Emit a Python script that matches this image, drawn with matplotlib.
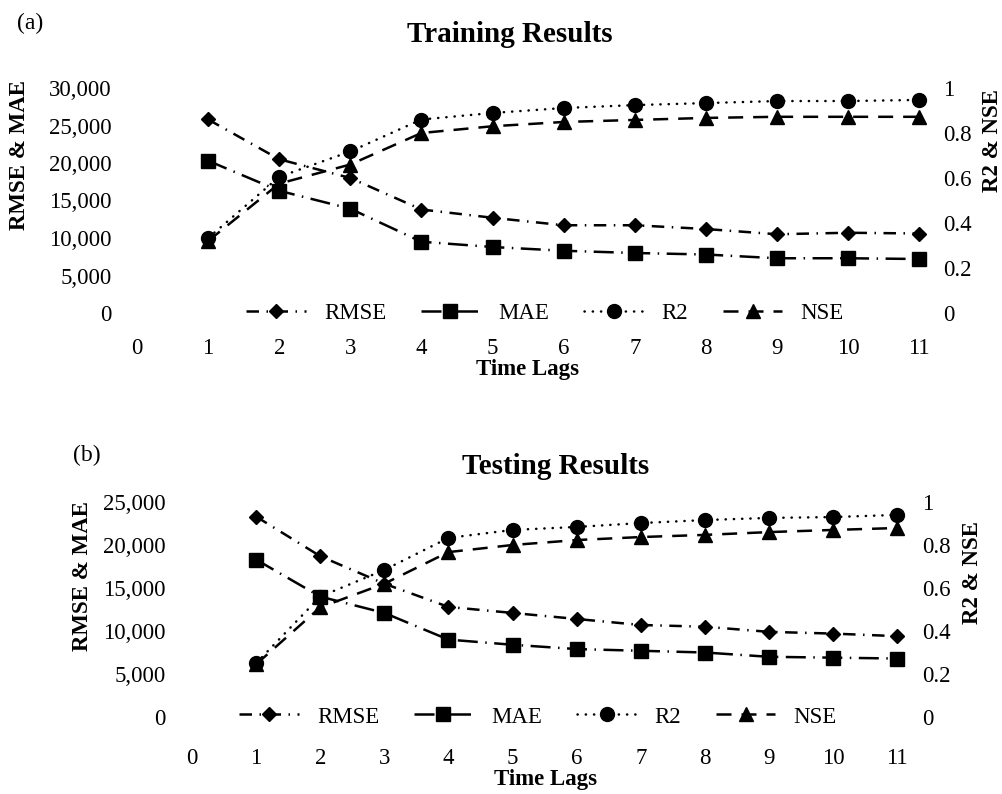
import matplotlib
matplotlib.use("Agg")
import matplotlib.pyplot as plt
from matplotlib.ticker import FuncFormatter

plt.rcParams["font.family"] = ["Liberation Serif", "DejaVu Serif"]

# Datos
lags = [1, 2, 3, 4, 5, 6, 7, 8, 9, 10, 11]
x_ticks = [0, 1, 2, 3, 4, 5, 6, 7, 8, 9, 10, 11]

train_rmse = [25800, 20500, 18000, 13800, 12700, 11700, 11700, 11200, 10500, 10700, 10600]
train_mae = [20300, 16300, 13900, 9500, 8800, 8300, 8000, 7800, 7300, 7300, 7200]
train_r2 = [0.333, 0.605, 0.718, 0.86, 0.889, 0.911, 0.924, 0.933, 0.942, 0.942, 0.947]
train_nse = [0.32, 0.575, 0.66, 0.80, 0.83, 0.849, 0.858, 0.867, 0.872, 0.872, 0.872]

test_rmse = [23300, 18700, 15500, 12800, 12100, 11400, 10700, 10500, 9900, 9700, 9400]
test_mae = [18300, 14000, 12100, 9000, 8400, 7900, 7700, 7500, 7000, 6900, 6800]
test_r2 = [0.25, 0.56, 0.684, 0.833, 0.87, 0.884, 0.902, 0.916, 0.926, 0.93, 0.94]
test_nse = [0.245, 0.51, 0.62, 0.767, 0.80, 0.823, 0.837, 0.847, 0.86, 0.87, 0.879]

left_ticks_a = [0, 5000, 10000, 15000, 20000, 25000, 30000]
left_ticks_b = [0, 5000, 10000, 15000, 20000, 25000]
right_ticks = [0, 0.2, 0.4, 0.6, 0.8, 1.0]
right_labels = ["0", "0.2", "0.4", "0.6", "0.8", "1"]

W, H = 1002, 794
FS = 16.5
LW = 1.8

fig = plt.figure(figsize=(W / 100, H / 100), dpi=100)
fig.patch.set_facecolor("white")


def px(x, y):
    return x / W, 1 - y / H


def panel(left, right, top, bottom, rmse, mae, r2, nse, lticks, xpad, lpad, rpad):
    x0, y0 = px(left, bottom)
    x1, y1 = px(right, top)
    ax = fig.add_axes([x0, y0, x1 - x0, y1 - y0])
    ax2 = ax.twinx()

    h1, = ax.plot(lags, rmse, color="black", lw=LW, ls=(0, (5, 3, 0.6, 3)),
                  marker="D", ms=7.5, label="RMSE")
    h2, = ax.plot(lags, mae, color="black", lw=LW, ls=(0, (8, 3, 0.6, 3)),
                  marker="s", ms=10, label="MAE")
    h3, = ax2.plot(lags, r2, color="black", lw=LW, ls=(0, (0.1, 3.2)),
                   dash_capstyle="round", marker="o", ms=10, label="R2")
    h4, = ax2.plot(lags, nse, color="black", lw=LW, ls=(0, (6, 4)),
                   marker="^", ms=10, label="NSE")

    ax.set_xlim(-0.3, 11.3)
    ax.set_ylim(0, lticks[-1])
    ax.set_yticks(lticks)
    ax.yaxis.set_major_formatter(FuncFormatter(lambda v, p: f"{int(v):,}"))
    ax.set_xticks(x_ticks)
    ax2.set_ylim(0, 1)
    ax2.set_yticks(right_ticks)
    ax2.set_yticklabels(right_labels)

    for a in (ax, ax2):
        for s in a.spines.values():
            s.set_visible(False)
    ax.tick_params(axis="x", length=0, labelsize=FS, pad=xpad)
    ax.tick_params(axis="y", length=0, labelsize=FS, pad=lpad)
    ax2.tick_params(axis="y", length=0, labelsize=FS, pad=rpad)
    return ax, ax2, [h1, h2, h3, h4]


def legend(ax2, hs, cx, cy):
    ax2.legend(handles=hs, loc="center", bbox_to_anchor=px(cx, cy),
               bbox_transform=fig.transFigure, ncol=4, frameon=False,
               fontsize=FS, handlelength=2.6, handletextpad=0.8,
               columnspacing=1.5, borderpad=0, borderaxespad=0)


# ---------- (a) Training ----------
ax, ax2, hs = panel(115.7, 940.4, 88, 313, train_rmse, train_mae, train_r2,
                    train_nse, left_ticks_a, 18, 3, 2)
legend(ax2, hs, 545, 313)
fig.text(*px(30, 23), "(a)", ha="center", va="center", fontsize=17)
fig.text(*px(510, 35), "Training Results", ha="center", va="center",
         fontsize=21, fontweight="bold")
fig.text(*px(20, 155), "RMSE & MAE", ha="center", va="center", rotation=90,
         fontsize=16.5, fontweight="bold")
fig.text(*px(992, 140), "R2 & NSE", ha="center", va="center", rotation=90,
         fontsize=16.5, fontweight="bold")
fig.text(*px(528, 369), "Time Lags", ha="center", va="center",
         fontsize=16.5, fontweight="bold")

# ---------- (b) Testing ----------
ax, ax2, hs = panel(172.8, 916.3, 502, 717, test_rmse, test_mae, test_r2,
                    test_nse, left_ticks_b, 22, 5, 4)
legend(ax2, hs, 538, 717)
fig.text(*px(87, 455), "(b)", ha="center", va="center", fontsize=17)
fig.text(*px(556, 467), "Testing Results", ha="center", va="center",
         fontsize=21, fontweight="bold")
fig.text(*px(83, 576), "RMSE & MAE", ha="center", va="center", rotation=90,
         fontsize=16.5, fontweight="bold")
fig.text(*px(972, 572), "R2 & NSE", ha="center", va="center", rotation=90,
         fontsize=16.5, fontweight="bold")
fig.text(*px(545, 780), "Time Lags", ha="center", va="center",
         fontsize=16.5, fontweight="bold")

fig.savefig("out.png", dpi=100, facecolor="white")
